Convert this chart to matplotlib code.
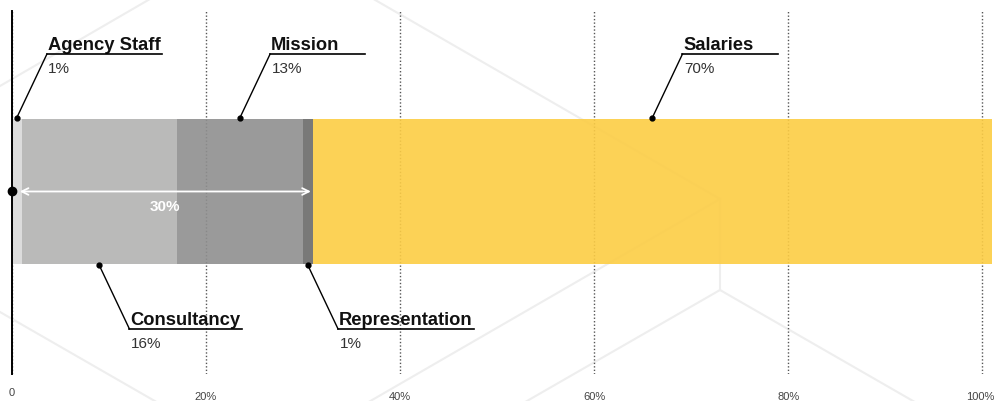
import matplotlib.pyplot as plt
from matplotlib.lines import Line2D
from matplotlib.transforms import ScaledTranslation

# Spending split by cost type, in percent of total
categories = ['Agency Staff', 'Consultancy', 'Mission', 'Representation', 'Salaries']
shares = [1, 16, 13, 1, 70]
colors = ['#d9d9d9', '#b3b3b2', '#8f8f8f', '#6b6b69', '#fccd44']
label_side = ['top', 'bottom', 'top', 'bottom', 'top']

tick_values = [0, 20, 40, 60, 80, 100]
tick_labels = ['0', '20%', '40%', '60%', '80%', '100%']

# everything that is not salaries
bracket_share = 30
bracket_label = '30%'

FONT = ['Liberation Sans', 'DejaVu Sans']

W, H = 995, 402
fig = plt.figure(figsize=(W / 100, H / 100), dpi=100)


def bg_line(x0, y0, x1, y1):
    # pixel coords measured from the top-left corner
    fig.add_artist(Line2D([x0 / W, x1 / W], [1 - y0 / H, 1 - y1 / H],
                          transform=fig.transFigure, color='#eeeeee',
                          lw=1.5, zorder=0))


# faint hexagon outline in the background
bg_line(720, 200, 370, -2)
bg_line(720, 200, 360, 408)
bg_line(720, 200, 720, 291)
bg_line(720, 291, 520, 406)
bg_line(720, 291, 920, 406)
bg_line(0, 87, 150, 0)
bg_line(0, 313, 160, 405)

ax = fig.add_axes([12 / W, 27 / H, 980 / W, 363 / H])
ax.patch.set_visible(False)
ax.set_xlim(0, 101)
ax.set_ylim(-1.259, 1.245)

# stacked horizontal bar
left = 0
centers = []
for share, color in zip(shares, colors):
    ax.barh(0, share, left=left, height=1, color=color, alpha=0.9, lw=0, zorder=2)
    centers.append(left + share / 2)
    left += share

# axes styling
for side in ['top', 'right', 'bottom']:
    ax.spines[side].set_visible(False)
ax.spines['left'].set_color('black')
ax.spines['left'].set_linewidth(1.4)
ax.set_yticks([])
ax.set_xticks(tick_values, tick_labels)
ax.tick_params(axis='x', length=0, pad=12.5, labelsize=8, labelcolor='#444')
for lbl in ax.get_xticklabels():
    lbl.set_fontfamily(FONT)
labels = ax.get_xticklabels()
labels[0].set_transform(labels[0].get_transform()
                        + ScaledTranslation(0, 3 / 72, fig.dpi_scale_trans))
labels[-1].set_transform(labels[-1].get_transform()
                         + ScaledTranslation(-1.5 / 72, 0, fig.dpi_scale_trans))
ax.xaxis.grid(True, linestyle=(0, (1, 1.5)), color='#555', lw=1)
ax.set_axisbelow(True)

# marker on the axis and the bracket over the non-salary costs
ax.plot(0, 0, 'o', color='black', ms=6, clip_on=False, zorder=5)
start = 0.8
ax.annotate('', xy=(start, 0), xytext=(start + bracket_share, 0),
            arrowprops=dict(arrowstyle='<->', color='white', lw=1.3,
                            shrinkA=0, shrinkB=0, mutation_scale=12),
            zorder=4)
ax.text(start + bracket_share / 2, -0.1, bracket_label, color='white',
        ha='center', va='center', fontsize=11, fontweight='bold',
        family=FONT, zorder=4)

# leader labels
line_y = 0.948
dx = 3.1
names = []
for name, share, xc, side in zip(categories, shares, centers, label_side):
    s = 1 if side == 'top' else -1
    x_line = xc + dx
    ax.plot([xc, x_line], [s * 0.51, s * line_y], color='black', lw=1,
            clip_on=False, zorder=5)
    ax.plot(xc, s * 0.51, 'o', color='black', ms=3.5, clip_on=False, zorder=5)
    t = ax.annotate(name, xy=(x_line, s * line_y), xytext=(0.5, 3.6),
                    textcoords='offset points', ha='left', va='baseline',
                    fontsize=13.2, fontweight='bold', family=FONT, color='#111')
    ax.annotate(f'{share}%', xy=(x_line, s * line_y), xytext=(1, -13),
                textcoords='offset points', ha='left', va='baseline',
                fontsize=11, family=FONT, color='#333')
    names.append((t, x_line, s * line_y))

# underline each name, at least as wide as the short ones
fig.canvas.draw()
renderer = fig.canvas.get_renderer()
inv = ax.transData.inverted()
for t, x_line, y in names:
    bb = t.get_window_extent(renderer)
    x_end = inv.transform((bb.x1 + 2, 0))[0]
    x_end = max(x_end, x_line + 9.8)
    ax.plot([x_line, x_end], [y, y], color='black', lw=1.2, clip_on=False, zorder=5)

fig.savefig('out.png', dpi=100)
